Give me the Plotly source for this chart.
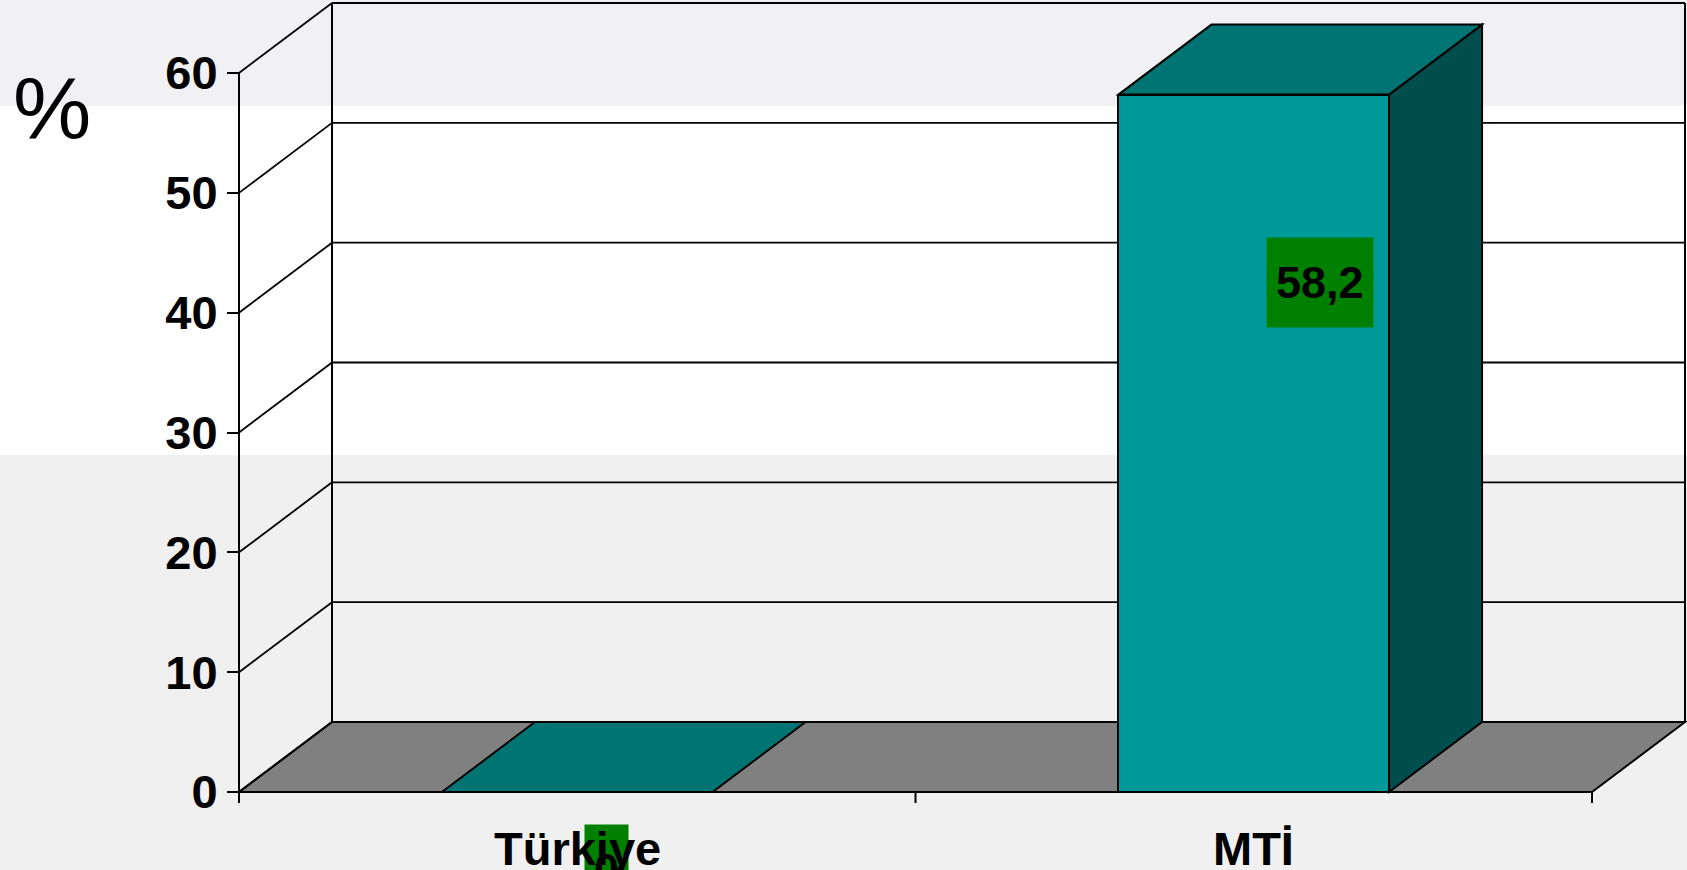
import plotly.graph_objects as go

# ---------------- data ----------------
categories = ["Türkiye", "MTİ"]
values = [0, 58.2]
value_labels = ["0", "58,2"]
y_ticks = [0, 10, 20, 30, 40, 50, 60]
unit_label = "%"

# ---------------- style / layout ----------------
W, H = 1687, 870
PX_X = 676.5          # pixels per category unit
PX_Y = 11.983         # pixels per percent
X0_PX = 239           # pixel where the category axis starts
Y0_PX = 792           # pixel of value 0
DX = 93 / PX_X        # 3-D depth offset (x units)
DY = 70 / PX_Y        # 3-D depth offset (value units)
BAR_W = 0.4
TICK_DOWN = 11 / PX_Y

xmin = -0.5 - X0_PX / PX_X
xmax = xmin + W / PX_X
ymin = -(H - Y0_PX) / PX_Y
ymax = Y0_PX / PX_Y

FRONT = "#009999"
TOP = "#007373"
SIDE = "#004d4d"
FLOOR = "#808080"
LABEL_BG = "#008000"
FONT = "Liberation Sans, Arial, sans-serif"

label_dx_px = [29, 66]
label_dy_px = [-77.5, -187.6]

x_lo = -0.5
x_hi = len(categories) - 0.5
ymax_tick = max(y_ticks)


def line(x0, y0, x1, y1, w=2):
    return dict(type="line", xref="x", yref="y", x0=x0, y0=y0, x1=x1, y1=y1,
                layer="below", line=dict(color="black", width=w))


def poly(pts, fill, w=2):
    path = "M " + " L ".join(f"{x},{y}" for x, y in pts) + " Z"
    return dict(type="path", xref="x", yref="y", path=path, fillcolor=fill,
                layer="below", line=dict(color="black", width=w))


shapes = []
# background bands (paper)
shapes.append(dict(type="rect", xref="paper", yref="paper", x0=0, x1=1,
                   y0=1 - 106 / H, y1=1, fillcolor="#f1f1f3", line=dict(width=0), layer="below"))
shapes.append(dict(type="rect", xref="paper", yref="paper", x0=0, x1=1,
                   y0=1 - 455 / H, y1=1 - 106 / H, fillcolor="#ffffff", line=dict(width=0), layer="below"))

# floor
shapes.append(poly([(x_lo, 0), (x_hi, 0), (x_hi + DX, DY), (x_lo + DX, DY)], FLOOR))
# back wall gridlines and side wall diagonals
for v in y_ticks:
    if v > 0:
        shapes.append(line(x_lo + DX, v + DY, x_hi + DX, v + DY, 1.8))
    shapes.append(line(x_lo, v, x_lo + DX, v + DY, 1.8))
# back wall verticals
shapes.append(line(x_lo + DX, DY, x_lo + DX, ymax_tick + DY, 2))
shapes.append(line(x_hi + DX, DY, x_hi + DX, ymax_tick + DY, 2))
# value axis line
shapes.append(line(x_lo, ymax_tick, x_lo, -TICK_DOWN, 2))
# category tick marks
for i in range(len(categories) + 1):
    xb = x_lo + i
    shapes.append(line(xb, 0, xb, -TICK_DOWN, 2))
# bar top and side faces
for i, v in enumerate(values):
    l, r = i - BAR_W / 2, i + BAR_W / 2
    if v > 0:
        shapes.append(poly([(r, 0), (r + DX, DY), (r + DX, v + DY), (r, v)], SIDE))
    shapes.append(poly([(l, v), (r, v), (r + DX, v + DY), (l + DX, v + DY)], TOP))

fig = go.Figure()
fig.add_trace(go.Bar(
    x=list(range(len(categories))), y=values, width=BAR_W,
    marker=dict(color=FRONT, line=dict(color="black", width=2)),
    hoverinfo="skip", showlegend=False,
))

annotations = []
for i, (v, t) in enumerate(zip(values, value_labels)):
    annotations.append(dict(
        x=i, y=v, xref="x", yref="y", text=t, showarrow=False,
        xanchor="center", yanchor="middle", xshift=label_dx_px[i], yshift=label_dy_px[i],
        bgcolor=LABEL_BG, borderpad=9, height=71,
        font=dict(family=FONT, size=45, color="black", weight="bold"),
    ))
for i, c in enumerate(categories):
    annotations.append(dict(
        x=i, y=0, xref="x", yref="y", text=c, showarrow=False,
        xanchor="center", yanchor="top", yshift=-28,
        font=dict(family=FONT, size=47, color="black", weight="bold"),
    ))
annotations.append(dict(
    x=51.5 / W, y=1 - 107.5 / H, xref="paper", yref="paper", text=unit_label,
    showarrow=False, xanchor="center", yanchor="middle",
    font=dict(family=FONT, size=88, color="black"),
))

fig.update_layout(
    width=W, height=H,
    margin=dict(l=0, r=0, t=0, b=0, autoexpand=False),
    paper_bgcolor="#f0f0f0", plot_bgcolor="rgba(0,0,0,0)",
    shapes=shapes, annotations=annotations,
    xaxis=dict(range=[xmin, xmax], showgrid=False, zeroline=False, showline=False,
               showticklabels=False, ticks="", fixedrange=True, automargin=False),
    yaxis=dict(range=[ymin, ymax], anchor="free", position=(x_lo - xmin) / (xmax - xmin),
               tickvals=y_ticks, ticktext=[str(t) for t in y_ticks],
               ticks="outside", ticklen=12, tickwidth=2, tickcolor="black",
               showgrid=False, zeroline=False, showline=False, fixedrange=True,
               automargin=False, ticklabelstandoff=0,
               tickfont=dict(family=FONT, size=47, color="black", weight="bold")),
    bargap=0,
)

fig.write_html(
    "out.html",
    config={"displayModeBar": False},
    post_script="document.body.style.margin='0';document.body.style.overflow='hidden';",
)
